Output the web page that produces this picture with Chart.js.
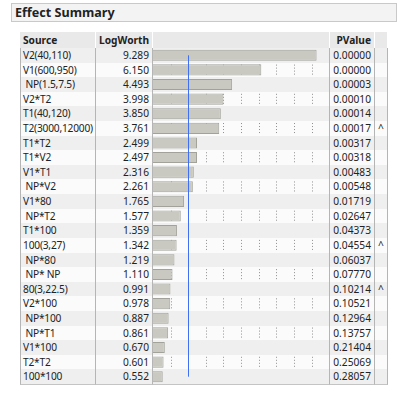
<!DOCTYPE html>
<html>
<head>
<meta charset="utf-8">
<script src="https://cdn.jsdelivr.net/npm/chart.js@4"></script>
<style>
  body { margin: 0; background: #fff; font-family: "Noto Sans", sans-serif; font-size: 10.2px; color: #222; }
  #wrap { position: relative; width: 400px; height: 394px; overflow: hidden; }
  .title { position: absolute; left: 11px; top: 3px; width: 381px; height: 17px; background: #f3f3f3;
           border: 1px solid #c9c9c9; font-weight: bold; font-size: 12.6px; line-height: 17px; padding-left: 3px; }
  .cell { position: absolute; box-sizing: border-box; white-space: pre; line-height: 14px; padding: 0 3px; overflow: hidden; }
  .src { padding-left: 2px; padding-right: 0; letter-spacing: -0.2px; }
  .hd { background: #e9e9e9; font-weight: bold; border-right: 1px solid #fff; }
  .r { text-align: right; }
  .grid { border-bottom: 1px solid #c4c4c4; border-right: 1px solid #b5b5b5; }
  #barbox { position: absolute; left: 153px; top: 48px; width: 177px; height: 336px; }
</style>
</head>
<body>
<div id="wrap">
  <div class="title">Effect Summary</div>
  <div id="table"></div>
  <div id="barbox"><canvas id="c"></canvas></div>
</div>
<script>
(function () {

  const sources = ['V2(40,110)', 'V1(600,950)', ' NP(1.5,7.5)', 'V2*T2', 'T1(40,120)', 'T2(3000,12000)',
    'T1*T2', 'T1*V2', 'V1*T1', ' NP*V2', 'V1*80', ' NP*T2', 'T1*100', '100(3,27)', ' NP*80', ' NP* NP',
    '80(3,22.5)', 'V2*100', ' NP*100', ' NP*T1', 'V1*100', 'T2*T2', '100*100'];
  const logWorth = [9.289, 6.150, 4.493, 3.998, 3.850, 3.761, 2.499, 2.497, 2.316, 2.261, 1.765, 1.577,
    1.359, 1.342, 1.219, 1.110, 0.991, 0.978, 0.887, 0.861, 0.670, 0.601, 0.552];
  const pValues = [0.00000, 0.00000, 0.00003, 0.00010, 0.00014, 0.00017, 0.00317, 0.00318, 0.00483, 0.00548,
    0.01719, 0.02647, 0.04373, 0.04554, 0.06037, 0.07770, 0.10214, 0.10521, 0.12964, 0.13757, 0.21404,
    0.25069, 0.28057];
  const marks = ['', '', '', '', '', '^', '', '', '', '', '', '', '', '^', '', '', '^', '', '', '', '', '', ''];
  const tickValues = [1, 3, 4, 5, 6, 7, 8, 9];
  const refValue = 2;   // logworth 2 = p 0.01

  const TOP = 48, ROW_H = 336 / sources.length;
  // column edges: source | logworth | bars | pvalue | ^
  const COLS = [20, 96, 153, 330, 375, 388];

  /* ── table (html text) ── */
  const host = document.getElementById('table');
  let html = '';
  const hdr = [['Source', ''], ['LogWorth', 'r'], ['', ''], ['PValue', 'r'], ['', '']];
  hdr.forEach(function (h, j) {
    html += '<div class="cell hd ' + h[1] + '" style="left:' + COLS[j] + 'px;top:32px;width:' + (COLS[j + 1] - COLS[j]) +
      'px;height:16px;line-height:16px">' + h[0] + '</div>';
  });
  sources.forEach(function (s, i) {
    const top = TOP + i * ROW_H;
    const bg = i % 2 === 0 ? '#efefef' : '#fbfbfb';
    const txt = [s, logWorth[i].toFixed(3), '', pValues[i].toFixed(5), marks[i]];
    const al = ['src', 'r', '', 'r', ''];
    txt.forEach(function (t, j) {
      const l = j === 0 ? 'border-left:1px solid #b5b5b5;' : '';
      html += '<div class="cell grid ' + al[j] + '" style="' + l + 'left:' + COLS[j] + 'px;top:' + top.toFixed(2) + 'px;width:' +
        (COLS[j + 1] - COLS[j]) + 'px;height:' + (ROW_H + 1).toFixed(2) + 'px;line-height:' + ROW_H.toFixed(2) + 'px;background:' + bg + '">' + t + '</div>';
    });
  });
  host.innerHTML = html;

  /* ── bars ── */
  const rowLines = {
    id: 'rowLines',
    beforeDatasetsDraw: function (chart) {
      const ctx = chart.ctx, x = chart.scales.x, y = chart.scales.y;
      ctx.save();
      ctx.strokeStyle = '#8f8f8f';
      ctx.lineWidth = 1;
      ctx.setLineDash([1, 2]);
      sources.forEach(function (s, i) {
        if (i % 2 === 0) return;
        const yc = y.getPixelForValue(i);
        tickValues.forEach(function (v) {
          const px = Math.round(x.getPixelForValue(v)) + 0.5;
          ctx.beginPath();
          ctx.moveTo(px, yc - ROW_H / 2 + 2);
          ctx.lineTo(px, yc + ROW_H / 2 - 1);
          ctx.stroke();
        });
      });
      ctx.restore();
    },
    afterDatasetsDraw: function (chart) {
      const ctx = chart.ctx, x = chart.scales.x, y = chart.scales.y;
      const px = Math.round(x.getPixelForValue(refValue)) + 0.5;
      ctx.save();
      ctx.strokeStyle = '#3f6ff2';
      ctx.lineWidth = 1;
      ctx.beginPath();
      ctx.moveTo(px, y.getPixelForValue(0));
      ctx.lineTo(px, y.getPixelForValue(sources.length - 1));
      ctx.stroke();
      ctx.restore();
    }
  };

  new Chart(document.getElementById('c'), {
    type: 'bar',
    data: {
      labels: sources,
      datasets: [{ data: logWorth, backgroundColor: '#c9c9c1', borderColor: '#a2a29a', borderWidth: 1,
        barPercentage: 0.76, categoryPercentage: 1 }]
    },
    options: {
      indexAxis: 'y',
      responsive: true,
      maintainAspectRatio: false,
      animation: false,
      layout: { padding: 0 },
      plugins: { legend: { display: false }, tooltip: { enabled: false } },
      scales: {
        x: { display: false, min: 0, max: 10.05 },
        y: { display: false }
      }
    },
    plugins: [rowLines]
  });

})();
</script>
</body>
</html>
